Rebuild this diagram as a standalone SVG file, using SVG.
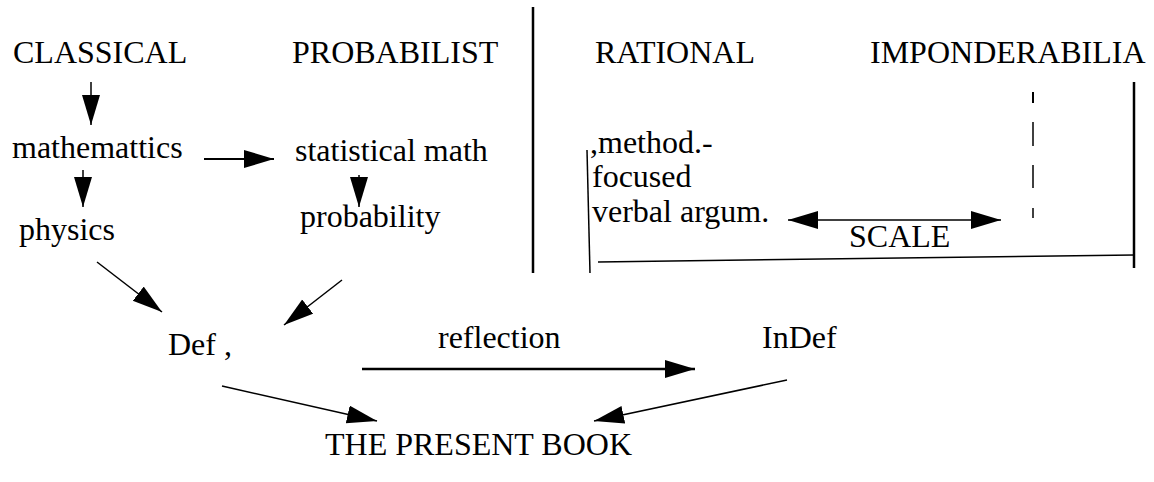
<svg xmlns="http://www.w3.org/2000/svg" width="1154" height="482" viewBox="0 0 1154 482">
<style>
text{font-family:"Liberation Serif","Times New Roman",serif;font-size:32px;fill:#000}
.c{stroke:#000;fill:none;stroke-width:1.5}
.b{stroke:#000;fill:none;stroke-width:2.5}
</style>
<defs>
<marker id="ah" markerUnits="userSpaceOnUse" markerWidth="32" markerHeight="20" refX="30" refY="9" orient="auto-start-reverse" viewBox="0 0 32 20">
<path d="M0,0 L30,9 L0,18 z" fill="#000"/>
</marker>
</defs>
<rect width="1154" height="482" fill="#fff"/>
<g id="frame">
<line class="b" x1="533" y1="7" x2="533" y2="273"/>
<line class="c" x1="587" y1="150" x2="590" y2="273"/>
<line class="c" x1="598" y1="262" x2="1134" y2="255"/>
<line class="b" stroke-width="2" x1="1134" y1="82" x2="1134" y2="268"/>
<g class="c">
<line x1="1033" y1="92" x2="1033" y2="103" stroke-width="2"/>
<line x1="1033" y1="122" x2="1033" y2="146"/>
<line x1="1033" y1="165" x2="1033" y2="188"/>
<line x1="1033" y1="208" x2="1033" y2="218"/>
</g>
</g>
<g id="n-classical"><text x="13" y="63">CLASSICAL</text></g>
<g id="n-probabilist"><text x="292" y="63">PROBABILIST</text></g>
<g id="n-rational"><text x="595" y="63">RATIONAL</text></g>
<g id="n-imponderabilia"><text x="870" y="63">IMPONDERABILIA</text></g>
<g id="n-mathematics"><text x="12" y="158">mathemattics</text></g>
<g id="n-statistical"><text x="295" y="161">statistical math</text></g>
<g id="n-physics"><text x="19" y="240">physics</text></g>
<g id="n-probability"><text x="300" y="227">probability</text></g>
<g id="n-method">
<text x="590" y="153">,method.-</text>
<text x="592" y="187">focused</text>
<text x="592" y="222">verbal argum.</text>
</g>
<g id="n-scale"><text x="849" y="247">SCALE</text></g>
<g id="n-def"><text x="168" y="355">Def ,</text></g>
<g id="n-reflection"><text x="438" y="348">reflection</text></g>
<g id="n-indef"><text x="762" y="348">InDef</text></g>
<g id="n-book"><text x="325" y="455">THE PRESENT BOOK</text></g>
<g id="connectors" class="c">
<line x1="91" y1="82" x2="91" y2="125" marker-end="url(#ah)"/>
<line x1="204" y1="159" x2="274" y2="159" stroke-width="2" marker-end="url(#ah)"/>
<line x1="83" y1="170" x2="83" y2="207" marker-end="url(#ah)"/>
<line x1="359" y1="175" x2="359" y2="207" marker-end="url(#ah)"/>
<line x1="97" y1="262" x2="162" y2="312" marker-end="url(#ah)"/>
<line x1="342" y1="280" x2="284" y2="325" marker-end="url(#ah)"/>
<line x1="222" y1="386" x2="377" y2="421" marker-end="url(#ah)"/>
<line x1="362" y1="369" x2="695" y2="369" stroke-width="2.5" marker-end="url(#ah)"/>
<line x1="787" y1="380" x2="594" y2="421" marker-end="url(#ah)"/>
<line x1="788" y1="220" x2="1001" y2="220" marker-start="url(#ah)" marker-end="url(#ah)"/>
</g>
</svg>
